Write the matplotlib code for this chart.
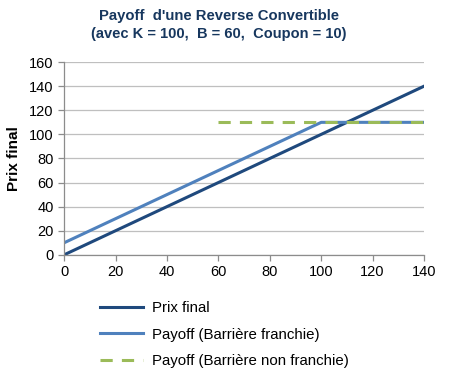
import matplotlib
matplotlib.use('Agg')
import matplotlib.pyplot as plt

plt.rcParams.update({
    'font.family': ['Liberation Sans', 'DejaVu Sans'],
    'font.size': 10,
})

# data
prix_x = [0, 140]
prix_y = [0, 140]
franchie_x = [0, 100, 140]
franchie_y = [10, 110, 110]
non_franchie_x = [60, 140]
non_franchie_y = [110, 110]

yticks = [0, 20, 40, 60, 80, 100, 120, 140, 160]
xticks = [0, 20, 40, 60, 80, 100, 120, 140]

fig = plt.figure(figsize=(4.68, 3.72), dpi=100)
ax = fig.add_axes([0.137, 0.315, 0.769, 0.518])

ax.plot(prix_x, prix_y, color='#1F497D', lw=2.2, label='Prix final')
ax.plot(franchie_x, franchie_y, color='#4F81BD', lw=2.2, label='Payoff (Barrière franchie)')
ax.plot(non_franchie_x, non_franchie_y, color='#9BBB59', lw=2.2,
        dashes=(4, 3), label='Payoff (Barrière non franchie)')

ax.set_xlim(0, 140)
ax.set_ylim(0, 160)
ax.set_xticks(xticks)
ax.set_yticks(yticks)
ax.grid(axis='y', color='#BFBFBF', lw=0.9)
ax.set_axisbelow(True)
for s in ['top', 'right']:
    ax.spines[s].set_visible(False)
for s in ['left', 'bottom']:
    ax.spines[s].set_color('#8C8C8C')
    ax.spines[s].set_linewidth(0.9)
ax.tick_params(axis='both', colors='#8C8C8C', labelcolor='black',
               labelsize=10.5, length=4, width=0.9)

ax.set_ylabel('Prix final', fontsize=11, fontweight='bold', labelpad=6)

fig.text(0.468, 0.958, "Payoff  d'une Reverse Convertible",
         ha='center', va='center', fontsize=10.7, fontweight='bold', color='#17375E')
fig.text(0.468, 0.908, "(avec K = 100,  B = 60,  Coupon = 10)",
         ha='center', va='center', fontsize=10.5, fontweight='bold', color='#17375E')

fig.legend(loc='upper left', bbox_to_anchor=(0.2, 0.207), frameon=False,
           fontsize=10.8, handlelength=2.9, handletextpad=0.6, labelspacing=0.85,
           borderaxespad=0)

fig.savefig('out.png', dpi=100, facecolor='white')
